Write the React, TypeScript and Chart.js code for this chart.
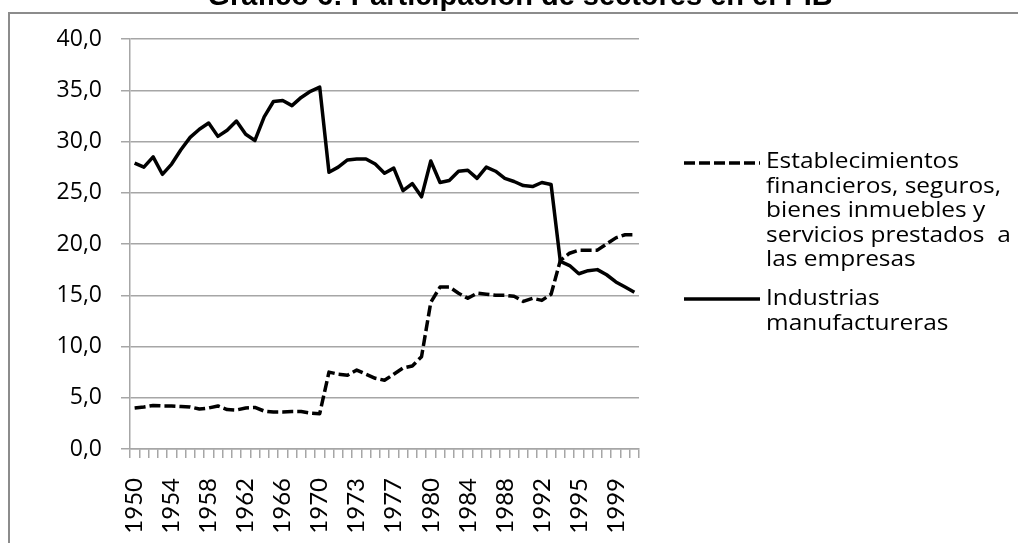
import React, { useEffect, useRef } from 'react';
import { Chart, registerables } from 'chart.js';

Chart.register(...registerables);

const categories: string[] = [
  '1950', '1951', '1952', '1953', '1954', '1955', '1956', '1957', '1958', '1959',
  '1960', '1961', '1962', '1963', '1964', '1965', '1966', '1967', '1968', '1969',
  '1970', '1970', '1971', '1972', '1973', '1974', '1975', '1976', '1977', '1978',
  '1979', '1980', '1980', '1981', '1982', '1983', '1984', '1985', '1986', '1987',
  '1988', '1989', '1990', '1991', '1992', '1993', '1993', '1994', '1995', '1996',
  '1997', '1998', '1999', '2000', '2001',
];

const financieros: number[] = [
  4.0, 4.1, 4.25, 4.2, 4.2, 4.15, 4.1, 3.9, 4.0, 4.2,
  3.85, 3.8, 4.0, 4.05, 3.7, 3.6, 3.6, 3.65, 3.65, 3.5,
  3.45, 7.5, 7.3, 7.2, 7.7, 7.3, 6.9, 6.7, 7.3, 7.9,
  8.1, 9.0, 14.3, 15.8, 15.8, 15.2, 14.7, 15.2, 15.1, 15.0,
  15.0, 14.9, 14.4, 14.7, 14.5, 15.1, 18.4, 19.1, 19.4, 19.4,
  19.4, 20.0, 20.6, 20.9, 20.9,
];

const manufactureras: number[] = [
  27.9, 27.5, 28.5, 26.8, 27.8, 29.2, 30.4, 31.2, 31.8, 30.5,
  31.1, 32.0, 30.7, 30.1, 32.4, 33.9, 34.0, 33.5, 34.3, 34.9,
  35.3, 27.0, 27.5, 28.2, 28.3, 28.3, 27.8, 26.9, 27.4, 25.2,
  25.9, 24.6, 28.1, 26.0, 26.2, 27.1, 27.2, 26.4, 27.5, 27.1,
  26.4, 26.1, 25.7, 25.6, 26.0, 25.8, 18.3, 17.9, 17.1, 17.4,
  17.5, 17.0, 16.3, 15.8, 15.3,
];

const titleText = 'Gráfico 6: Participación de sectores en el PIB';

const legendFinancieros: string[] = [
  'Establecimientos',
  'financieros, seguros,',
  'bienes inmuebles y',
  'servicios prestados  a',
  'las empresas',
];

const legendManufactureras: string[] = ['Industrias', 'manufactureras'];

const GRID = '#a6a6a6';
const LEGEND_FONT = '21px "Open Sans", sans-serif';

const decorPlugin = {
  id: 'decor',
  beforeDraw(chart: any) {
    const ctx = chart.ctx;
    ctx.save();
    ctx.fillStyle = '#ffffff';
    ctx.fillRect(0, 0, chart.width, chart.height);
    ctx.strokeStyle = '#8c8c8c';
    ctx.lineWidth = 2;
    ctx.beginPath();
    ctx.moveTo(9, chart.height + 5);
    ctx.lineTo(9, 13);
    ctx.lineTo(chart.width + 5, 13);
    ctx.stroke();
    ctx.fillStyle = '#000000';
    ctx.font = 'bold 29px "Liberation Sans", Arial, sans-serif';
    ctx.textAlign = 'center';
    ctx.textBaseline = 'alphabetic';
    ctx.fillText(titleText, 520, 5);
    ctx.restore();
  },
  afterDraw(chart: any) {
    const ctx = chart.ctx;
    const entries = [
      { ds: chart.data.datasets[0], lines: legendFinancieros, base: 168, sampleY: 163 },
      { ds: chart.data.datasets[1], lines: legendManufactureras, base: 305, sampleY: 299 },
    ];
    ctx.save();
    ctx.font = LEGEND_FONT;
    const sx = 193 / ctx.measureText(legendFinancieros[0]).width;
    entries.forEach((e) => {
      ctx.strokeStyle = '#000000';
      ctx.lineWidth = 3.5;
      ctx.lineCap = 'butt';
      ctx.setLineDash(e.ds.borderDash || []);
      ctx.beginPath();
      ctx.moveTo(684, e.sampleY);
      ctx.lineTo(760, e.sampleY);
      ctx.stroke();
      ctx.setLineDash([]);
      ctx.fillStyle = '#000000';
      ctx.textAlign = 'left';
      ctx.textBaseline = 'alphabetic';
      e.lines.forEach((t: string, i: number) => {
        ctx.save();
        ctx.translate(766, e.base + i * 24.5);
        ctx.scale(sx, 1);
        ctx.fillText(t, 0, 0);
        ctx.restore();
      });
    });
    ctx.restore();
  },
};

export default function App() {
  const ref = useRef<HTMLCanvasElement | null>(null);

  useEffect(() => {
    if (!ref.current) return;
    const chart = new Chart(ref.current, {
      type: 'line',
      data: {
        labels: categories,
        datasets: [
          {
            label: legendFinancieros.join(' '),
            data: financieros,
            borderColor: '#000000',
            borderWidth: 3.5,
            borderDash: [11, 4],
            borderCapStyle: 'butt',
            borderJoinStyle: 'round',
            pointRadius: 0,
            tension: 0,
            fill: false,
          },
          {
            label: legendManufactureras.join(' '),
            data: manufactureras,
            borderColor: '#000000',
            borderWidth: 3.5,
            borderJoinStyle: 'round',
            pointRadius: 0,
            tension: 0,
            fill: false,
          },
        ],
      },
      options: {
        responsive: false,
        animation: false,
        events: [],
        layout: { padding: { left: 0, top: 39, right: 379, bottom: 0 } },
        plugins: {
          legend: { display: false },
          title: { display: false },
          tooltip: { enabled: false },
        },
        scales: {
          x: {
            type: 'category',
            offset: true,
            grid: {
              offset: true,
              drawOnChartArea: false,
              drawTicks: true,
              tickLength: 9,
              color: GRID,
              lineWidth: 1.5,
            },
            border: { display: true, color: GRID, width: 1.5 },
            ticks: {
              autoSkip: false,
              maxRotation: 90,
              minRotation: 90,
              padding: 20,
              color: '#000000',
              font: { family: 'Lato, "Open Sans", sans-serif', size: 24 },
              callback: (_v: any, idx: number) => (idx % 4 === 0 ? categories[idx] : ''),
            },
            afterFit: (s: any) => {
              s.height = 94;
            },
          },
          y: {
            min: 0,
            max: 40,
            grid: {
              color: GRID,
              lineWidth: 1.5,
              drawTicks: true,
              tickLength: 9,
            },
            border: { display: true, color: GRID, width: 1.5 },
            ticks: {
              stepSize: 5,
              padding: 19,
              color: '#000000',
              font: { family: '"Open Sans", sans-serif', size: 23 },
              callback: (v: any) => Number(v).toFixed(1).replace('.', ','),
            },
            afterFit: (s: any) => {
              s.width = 130;
            },
          },
        },
      },
      plugins: [decorPlugin],
    });
    return () => chart.destroy();
  }, []);

  return (
    <div style={{ position: 'absolute', left: 0, top: 0, width: 1018, height: 543, background: '#fff' }}>
      <canvas ref={ref} width={1018} height={543} style={{ display: 'block', width: 1018, height: 543 }} />
    </div>
  );
}
